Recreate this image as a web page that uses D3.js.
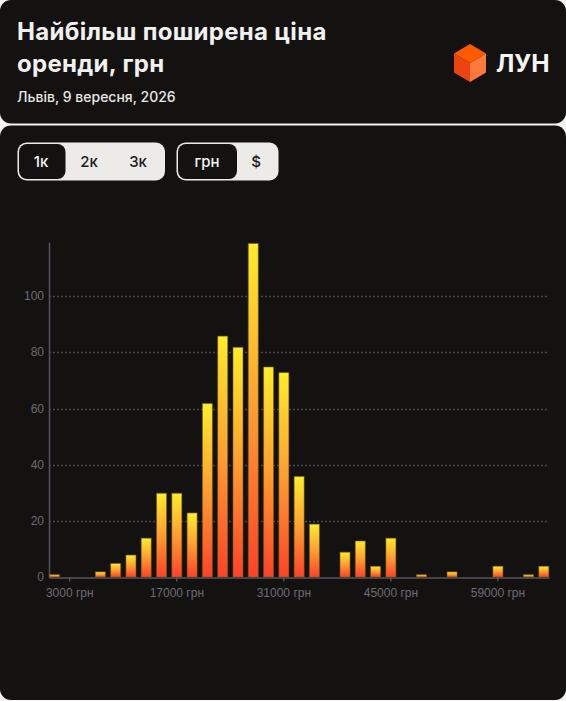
<!DOCTYPE html>
<html>
<head>
<meta charset="utf-8">
<script src="https://cdn.jsdelivr.net/npm/d3@7"></script>
<style>
  html, body { margin: 0; padding: 0; background: #f3f3f1; }
  svg { display: block; font-family: Inter, "Noto Sans", sans-serif; }
</style>
</head>
<body>
<svg id="chart" width="566" height="701"></svg>
<script>
// ---- data ----
const bins = ["1000","3000","5000","7000","9000","11000","13000","15000","17000","19000","21000",
  "23000","25000","27000","29000","31000","33000","35000","37000","39000","41000","43000",
  "45000","47000","49000","51000","53000","55000","57000","59000","61000","63000","65000"];
const counts = [1,0,0,2,5,8,14,30,30,23,62,86,82,119,75,73,36,19,0,9,13,4,14,0,1,0,2,0,0,4,0,1,4];
const xTickBins = ["3000","17000","31000","45000","59000"];
const yTicks = [0,20,40,60,80,100];
const titleLines = ["Найбільш поширена ціна", "оренди, грн"];
const subtitle = "Львів, 9 вересня, 2026";
const binButtons = ["1к","2к","3к"];
const curButtons = ["грн","$"];

const svg = d3.select("#chart");
const cardFill = "#131211";

// cards
svg.append("rect").attr("x",0).attr("y",0).attr("width",566).attr("height",123.5).attr("rx",11).attr("fill",cardFill);
svg.append("rect").attr("x",0).attr("y",125.5).attr("width",566).attr("height",574.5).attr("rx",11).attr("fill",cardFill);

// title
svg.selectAll("text.title").data(titleLines).join("text")
  .attr("class","title").attr("x",17).attr("y",(d,i)=>40+i*32)
  .attr("fill","#f1f1ef").attr("font-size",24).attr("font-weight",700)
  .attr("letter-spacing",0.3)
  .text(d=>d);
svg.append("text").attr("x",17).attr("y",102).attr("fill","#e8e8e6")
  .attr("font-size",14).attr("font-weight",500).text(subtitle);

// logo cube
const logo = svg.append("g").attr("transform","translate(470,63)");
logo.append("path").attr("d","M0,-19 L16,-9.5 L0,0 L-16,-9.5 Z").attr("fill","#ff5a00");
logo.append("path").attr("d","M-16,-9.5 L0,0 L0,19 L-16,9.5 Z").attr("fill","#ec4410");
logo.append("path").attr("d","M16,-9.5 L0,0 L0,19 L16,9.5 Z").attr("fill","#ff7a3a");
svg.append("text").attr("x",496).attr("y",72).attr("fill","#f4f4f2")
  .attr("font-size",24.5).attr("font-weight",700).text("ЛУН");

// buttons
function buttonGroup(x, w, labels, centers, selW) {
  const g = svg.append("g");
  g.append("rect").attr("x",x).attr("y",142.5).attr("width",w).attr("height",38).attr("rx",9).attr("fill","#ecebe8");
  g.append("rect").attr("x",x+1.5).attr("y",144).attr("width",selW).attr("height",35).attr("rx",8)
    .attr("fill",cardFill);
  g.selectAll("text").data(labels).join("text")
    .attr("x",(d,i)=>centers[i]).attr("y",167).attr("text-anchor","middle")
    .attr("font-size",15).attr("font-weight",500)
    .attr("fill",(d,i)=>i===0?"#f4f4f2":"#1c1c1c").text(d=>d);
}
buttonGroup(17.5, 147.5, binButtons, [41, 89, 138], 46.5);
buttonGroup(176.5, 102, curButtons, [207, 256], 59);

// scales
const x = d3.scaleBand().domain(bins).range([49, 549.3]).paddingInner(0.28).paddingOuter(0);
const y = d3.scaleLinear().domain([0, 119]).range([577, 243]);

// gradient
const defs = svg.append("defs");
const grad = defs.append("linearGradient").attr("id","barGrad").attr("x1",0).attr("y1",0).attr("x2",0).attr("y2",1);
grad.append("stop").attr("offset","0%").attr("stop-color","#ffec2b");
grad.append("stop").attr("offset","50%").attr("stop-color","#ff9e30");
grad.append("stop").attr("offset","100%").attr("stop-color","#ff4128");

// grid lines
svg.append("g").selectAll("line").data(yTicks.filter(d=>d>0)).join("line")
  .attr("x1",49).attr("x2",549).attr("y1",d=>Math.round(y(d))+0.5).attr("y2",d=>Math.round(y(d))+0.5)
  .attr("stroke","#4a4952").attr("stroke-width",1.3).attr("stroke-dasharray","2,2");

// y axis labels
svg.append("g").selectAll("text").data(yTicks).join("text")
  .attr("x",44).attr("y",d=>y(d)+4).attr("text-anchor","end")
  .attr("fill","#6d6c74").attr("font-size",12).attr("font-family","Liberation Sans, Arial, sans-serif")
  .text(d=>d);

// x axis
const xAxis = d3.axisBottom(x).tickValues(xTickBins).tickSize(4).tickSizeOuter(0)
  .tickFormat(d=>d+" грн");
const xg = svg.append("g").attr("transform","translate(0,577.5)").call(xAxis);
xg.select(".domain").attr("stroke","#55545c").attr("stroke-width",1.5);
xg.selectAll(".tick line").attr("stroke","#6d6c74");
xg.selectAll(".tick text").attr("fill","#6d6c74").attr("font-size",12)
  .attr("font-family","Liberation Sans, Arial, sans-serif").attr("dy","1.05em");

// y axis line
svg.append("line").attr("x1",49.5).attr("x2",49.5).attr("y1",242.5).attr("y2",578)
  .attr("stroke","#55545c").attr("stroke-width",1.5);

// bars
svg.append("g").selectAll("rect").data(bins.map((b,i)=>({b, v: counts[i]})).filter(d=>d.v>0)).join("rect")
  .attr("x",d=>x(d.b)+0.5).attr("width",x.bandwidth()-1)
  .attr("y",d=>y(d.v)+0.5).attr("height",d=>y(0)-y(d.v)-0.5)
  .attr("fill","url(#barGrad)")
  .attr("stroke","#6a5a12").attr("stroke-opacity",0.55).attr("stroke-width",1);
</script>
</body>
</html>
